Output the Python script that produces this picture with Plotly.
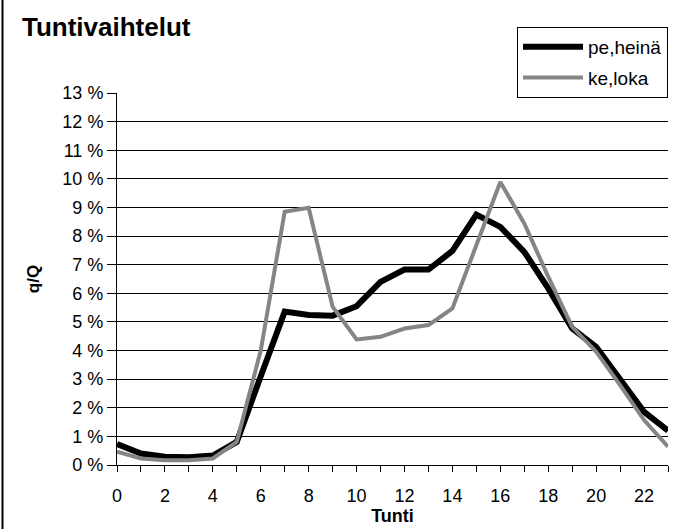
import plotly.graph_objects as go

hours = list(range(24))
pe_heina = [0.73, 0.40, 0.29, 0.27, 0.33, 0.81, 3.10, 5.36, 5.24, 5.22, 5.55, 6.40,
            6.83, 6.83, 7.48, 8.75, 8.32, 7.45, 6.17, 4.77, 4.13, 2.97, 1.86, 1.20]
ke_loka = [0.47, 0.23, 0.17, 0.17, 0.23, 0.81, 4.00, 8.85, 8.99, 5.53, 4.39, 4.48,
           4.77, 4.89, 5.47, 7.68, 9.89, 8.44, 6.58, 4.83, 3.96, 2.79, 1.57, 0.64]
y_ticks = list(range(14))
y_tick_labels = [f"{v} %" for v in y_ticks]
x_ticks = list(range(0, 24, 2))

FONT = "Arial, 'Liberation Sans', sans-serif"
L, R, T, B = 117, 15, 93, 64
W, H = 683, 529
PW, PH = W - L - R, H - T - B

fig = go.Figure()
fig.add_trace(go.Scatter(x=hours, y=pe_heina, mode="lines", name="pe,heinä",
                         legendgroup="a",
                         line=dict(color="black", width=6)))
fig.add_trace(go.Scatter(x=hours, y=ke_loka, mode="lines", name="ke,loka",
                         legendgroup="b",
                         line=dict(color="#858585", width=4)))

fig.update_layout(
    width=W, height=H,
    margin=dict(l=L, r=R, t=T, b=B),
    paper_bgcolor="white", plot_bgcolor="white",
    font=dict(family=FONT, size=18, color="black"),
    title=dict(text="Tuntivaihtelut", font=dict(size=26, weight="bold", family=FONT),
               x=22 / W, xref="container", xanchor="left",
               y=1 - 27 / H, yref="container", yanchor="middle"),
    legend=dict(x=1, xanchor="right", y=1 + (T - 27) / PH, yanchor="top",
                bordercolor="black", borderwidth=1, bgcolor="white",
                traceorder="grouped", tracegroupgap=3, itemwidth=60,
                font=dict(size=19, family=FONT)),
    xaxis=dict(range=[0, 23], tickvals=x_ticks, ticks="outside", ticklen=6,
               tickcolor="black", showgrid=False, showline=True, linecolor="black",
               linewidth=1, zeroline=False, ticklabelstandoff=8,
               minor=dict(dtick=1, tick0=0, ticks="outside", ticklen=6, tickcolor="black",
                          showgrid=False),
               title=dict(text="Tunti", font=dict(size=18, weight="bold"), standoff=0)),
    yaxis=dict(range=[0, 13], tickvals=y_ticks, ticktext=y_tick_labels, ticks="outside",
               ticklen=9, tickcolor="black", showgrid=True, gridcolor="black",
               gridwidth=1, showline=True, linecolor="black", linewidth=1,
               zeroline=False,
               title=dict(text="q/Q", font=dict(size=17, weight="bold"), standoff=18)),
    shapes=[dict(type="line", xref="paper", yref="paper",
                 x0=(2.5 - L) / PW, x1=(2.5 - L) / PW,
                 y0=-B / PH, y1=1 + T / PH,
                 line=dict(color="black", width=2))],
)

fig.write_html("out.html", config={"displayModeBar": False},
               post_script="document.body.style.margin='0';document.body.style.padding='0';")
